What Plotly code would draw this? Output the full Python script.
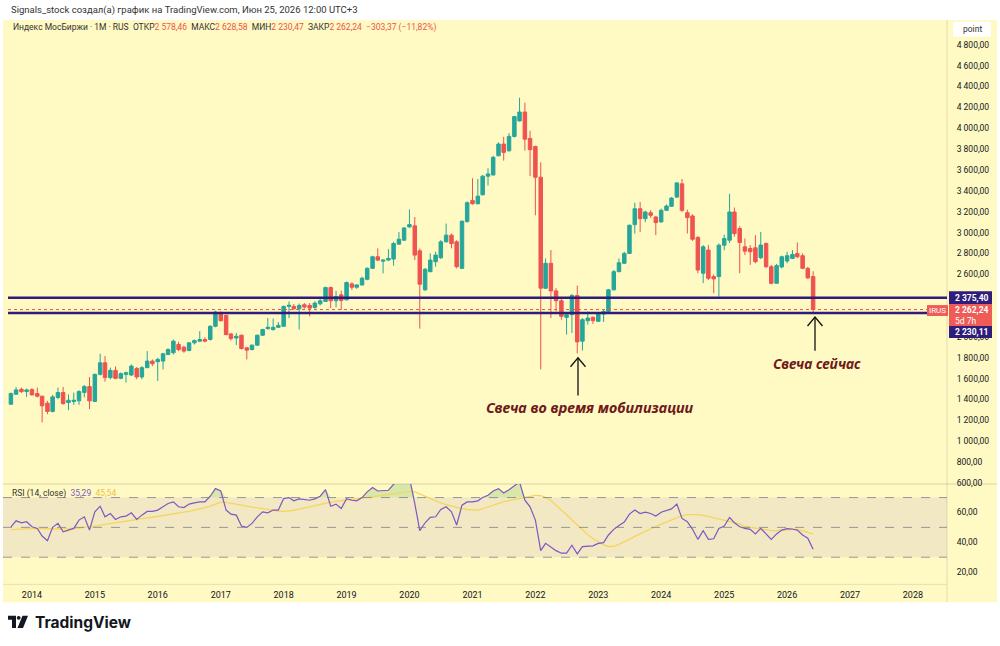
import plotly.graph_objects as go
import pandas as pd

# ---------------- data (monthly IMOEX candles, Sep 2013 .. Jun 2026) ----------------
months = pd.date_range("2013-09-01", periods=154, freq="MS")

opens = [1355,1451,1498,1476,1495,1457,1432,1365,1286,1419,1467,1371,1381,1387,1468,1524,
         1381,1641,1752,1610,1679,1603,1641,1635,1698,1616,1705,1768,
         1762,1768,1832,1848,1927,1902,1870,1943,1959,1975,1975,2102,
         2229,2206,2028,1990,2016,1895,1879,1921,2016,2079,2070,2092,
         2102,2292,2292,2270,2308,2301,2282,2317,2340,2473,2346,2403,
         2355,2508,2476,2498,2552,2657,2768,2726,2736,2746,2889,2927,
         3054,3064,2825,2451,2625,2720,2759,2911,2975,2911,2657,3105,
         3308,3276,3362,3540,3552,3736,3848,3784,3921,4070,4155,3902,
         3825,3530,2466,2705,2441,2346,2187,2213,2397,1959,2155,2187,
         2149,2219,2244,2451,2625,2705,2800,3076,3228,3133,3190,3149,
         3102,3213,3251,3340,3467,3190,3159,2952,2610,2832,2578,2578,
         2879,2927,3197,3038,2863,2847,2854,2759,2895,2673,2514,2670,
         2727,2752,2800,2778,2657,2578.46]
highs = [1467,1520,1514,1505,1508,1514,1435,1387,1445,1514,1520,1450,1466,1489,1540,1616,
         1648,1838,1816,1705,1717,1660,1667,1736,1711,1720,1864,1784,
         1800,1848,1890,1975,1953,1915,1950,1975,2054,1997,2111,2251,
         2245,2213,2038,2038,2022,1902,1927,2022,2079,2181,2175,2143,
         2300,2340,2315,2320,2325,2325,2340,2365,2482,2482,2441,2444,
         2530,2524,2505,2578,2667,2778,2848,2742,2841,2911,3006,3051,
         3222,3149,2847,2660,2800,2816,2927,3086,2990,2927,3117,3299,
         3520,3514,3552,3616,3736,3864,3918,3952,4117,4292,4244,3975,
         3832,3673,2752,2832,2467,2371,2229,2410,2492,2181,2244,2197,
         2228,2260,2460,2641,2752,2816,3076,3286,3292,3210,3215,3160,
         3230,3270,3340,3480,3514,3220,3175,2968,2880,2880,2600,2895,
         2980,3371,3240,3060,2943,2880,2975,3006,2905,2690,2700,2778,
         2816,2832,2905,2800,2672,2628.58]
lows = [1349,1444,1463,1425,1438,1419,1181,1260,1276,1403,1349,1298,1349,1349,1420,1308,
        1380,1630,1571,1594,1594,1594,1562,1625,1594,1594,1705,1720,
        1578,1689,1825,1832,1863,1848,1862,1927,1950,1949,1965,2092,
        2149,2016,1965,1921,1879,1784,1870,1915,2010,2070,2060,2086,
        2100,2180,2260,2070,2270,2197,2270,2302,2335,2276,2283,2260,
        2350,2451,2460,2492,2543,2650,2727,2609,2730,2682,2885,2920,
        3045,2736,2079,2440,2620,2673,2746,2905,2848,2657,2650,3095,
        3267,3270,3356,3451,3545,3730,3689,3775,3911,4064,3784,3540,
        3165,1689,2460,2181,2244,2165,2022,2038,1841,1870,2117,2124,
        2143,2143,2238,2445,2620,2700,2795,2990,3006,3100,3140,2975,
        3095,3205,3245,3330,3195,2990,2920,2610,2515,2545,2419,2387,
        2830,2900,2960,2610,2784,2690,2705,2745,2660,2505,2510,2657,
        2705,2746,2755,2650,2556,2230.47]
closes = [1457,1492,1476,1492,1444,1432,1340,1286,1425,1467,1362,1393,1393,1476,1524,1387,
          1641,1752,1610,1679,1603,1648,1657,1720,1616,1705,1768,1743,
          1784,1838,1879,1959,1879,1864,1943,1965,1975,1959,2102,2238,
          2155,2022,1984,2006,1889,1873,1921,2016,2070,2092,2092,2111,
          2292,2303,2270,2301,2286,2276,2324,2346,2473,2346,2387,2349,
          2521,2476,2498,2562,2657,2768,2736,2736,2752,2895,2936,3044,
          3076,2784,2505,2648,2736,2784,2911,2975,2895,2673,3108,3286,
          3276,3349,3540,3562,3721,3848,3768,3921,4111,4155,3895,3794,
          3530,2467,2705,2441,2346,2197,2213,2397,1952,2165,2181,2155,
          2219,2244,2451,2625,2711,2800,3070,3228,3133,3197,3165,3095,
          3213,3254,3330,3476,3213,3143,2936,2641,2863,2562,2556,2879,
          2943,3197,2990,2905,2822,2816,2721,2880,2673,2514,2683,2768,
          2778,2790,2768,2657,2565.61,2262.24]

rsi = [50.4,54.4,53.1,53.8,50.4,49.3,44.2,41.1,50.0,52.7,47.1,48.2,49.3,54.9,57.1,48.2,
       60.4,64.2,57.1,59.3,55.3,57.1,57.6,59.8,55.3,58.2,60.7,60.7,
       61.6,63.8,66.0,67.1,63.8,63.3,65.6,66.4,67.1,67.1,70.9,76.0,
       74.4,61.6,58.9,58.2,50.9,50.0,52.7,57.1,60.4,59.8,61.6,61.6,
       69.3,70.0,67.8,69.1,68.7,68.2,69.1,70.9,75.3,64.2,65.6,62.7,
       69.3,68.2,67.8,70.0,73.8,76.7,74.4,74.4,74.9,78.9,82.0,82.7,
       83.3,66.0,47.8,53.1,56.7,57.1,62.0,63.8,60.4,51.6,64.9,67.1,
       67.1,67.8,70.0,71.6,74.4,76.0,73.1,75.3,78.2,80.4,68.2,63.8,
       54.9,34.4,39.3,36.7,34.4,32.7,32.7,38.0,32.2,37.1,37.6,37.6,
       39.3,39.8,44.9,48.7,51.3,53.6,58.9,61.6,59.3,60.2,59.3,57.6,
       60.2,61.1,62.4,65.6,56.0,53.8,48.7,42.0,47.8,42.0,42.4,49.3,
       50.9,56.7,53.1,50.4,49.3,48.7,45.6,49.3,45.6,42.0,45.6,48.2,
       49.1,48.9,48.2,44.9,42.7,35.29]

rsi_ma = [48.5,48.7,48.9,49.1,49.2,49.3,49.2,49.0,48.9,48.9,49.0,49.1,49.3,49.6,50.0,50.3,
          50.8,51.4,52.0,52.6,53.2,53.8,54.4,55.0,55.5,56.0,56.4,56.8,57.3,57.8,58.3,
          59.0,59.6,60.2,60.8,61.5,62.3,63.2,64.3,65.6,67.0,
          66.8,66.3,65.6,64.9,64.2,63.6,63.0,62.4,61.8,61.3,61.0,
          60.8,61.0,61.5,62.2,63.0,63.8,64.6,65.4,66.2,67.0,67.4,67.8,68.2,68.6,69.0,
          69.6,70.2,70.6,71.0,71.5,72.0,72.5,73.0,73.6,74.2,
          73.8,72.4,70.8,69.0,67.6,66.4,65.3,64.3,63.4,62.6,62.0,61.6,
          61.6,62.5,63.8,65.0,66.2,67.2,68.0,68.7,69.6,70.5,71.2,71.5,71.2,
          70.0,68.0,65.0,62.0,58.5,55.0,51.5,48.0,45.0,42.5,40.3,38.3,37.2,37.3,38.6,40.2,
          42.0,44.0,45.8,47.3,49.0,50.6,52.2,53.6,55.0,56.4,57.8,58.5,58.8,58.6,58.0,57.2,
          56.4,55.5,54.7,54.0,53.3,52.4,50.6,50.0,49.4,48.6,48.0,47.8,47.8,47.9,48.1,48.4,
          48.6,47.8,46.8,45.54]

year_labels = [str(y) for y in range(2014, 2029)]
year_ticks = [f"{y}-01-01" for y in range(2014, 2029)]
# 2200 and 2400 are hidden behind the price boxes in the reference
price_ticks = [600, 800, 1000, 1200, 1400, 1600, 1800, 2000, 2600, 2800, 3000,
               3200, 3400, 3600, 3800, 4000, 4200, 4400, 4600, 4800]
price_text = [f"{v//1000} {v%1000:03d},00" if v >= 1000 else f"{v},00" for v in price_ticks]
rsi_ticks = [20, 40, 60]
rsi_text = ["20,00", "40,00", "60,00"]
level_hi = 2375.40
level_lo = 2230.11
last_close = 2262.24

# ---------------- geometry helpers (pixel -> paper) ----------------
W, H = 1000, 646
def PX(x): return x / W
def PY(y): return 1 - y / H

GREEN = "#26A69A"
RED = "#EF5350"
BG = "#FFF9C4"
INDIGO = "#2E1D7A"
DARK = "#131722"

fig = go.Figure()

fig.add_trace(go.Candlestick(
    x=months, open=opens, high=highs, low=lows, close=closes,
    xaxis="x", yaxis="y",
    increasing=dict(line=dict(color=GREEN, width=1), fillcolor=GREEN),
    decreasing=dict(line=dict(color=RED, width=1), fillcolor=RED),
    whiskerwidth=0, showlegend=False, hoverinfo="skip"))

# RSI band 30-70
x_band = ["2013-07-17", "2028-07-17"]
fig.add_trace(go.Scatter(x=x_band, y=[30, 30], mode="lines", line=dict(color="rgba(0,0,0,0)"),
                         xaxis="x2", yaxis="y2", showlegend=False, hoverinfo="skip"))
fig.add_trace(go.Scatter(x=x_band, y=[70, 70], mode="lines", line=dict(color="rgba(0,0,0,0)"),
                         fill="tonexty", fillcolor="rgba(126,87,194,0.10)",
                         xaxis="x2", yaxis="y2", showlegend=False, hoverinfo="skip"))
# overbought fill
fig.add_trace(go.Scatter(x=months, y=[70] * len(months), mode="lines", line=dict(color="rgba(0,0,0,0)"),
                         xaxis="x2", yaxis="y2", showlegend=False, hoverinfo="skip"))
fig.add_trace(go.Scatter(x=months, y=[max(v, 70) for v in rsi], mode="lines", line=dict(color="rgba(0,0,0,0)"),
                         fill="tonexty", fillcolor="rgba(76,175,80,0.22)",
                         xaxis="x2", yaxis="y2", showlegend=False, hoverinfo="skip"))
fig.add_trace(go.Scatter(x=months, y=rsi_ma, mode="lines", line=dict(color="#F6D55C", width=1.3),
                         xaxis="x2", yaxis="y2", showlegend=False, hoverinfo="skip"))
fig.add_trace(go.Scatter(x=months, y=rsi, mode="lines", line=dict(color="#7E57C2", width=1.2),
                         xaxis="x2", yaxis="y2", showlegend=False, hoverinfo="skip"))

shapes = []
# backgrounds
shapes.append(dict(type="rect", xref="paper", yref="paper", x0=PX(3), x1=PX(997), y0=PY(606), y1=PY(20),
                   fillcolor=BG, line=dict(width=0), layer="below"))
# separators
shapes.append(dict(type="line", xref="paper", yref="paper", x0=PX(3), x1=PX(997), y0=PY(487), y1=PY(487),
                   line=dict(color="rgba(120,110,80,0.25)", width=1), layer="below"))
shapes.append(dict(type="line", xref="paper", yref="paper", x0=PX(3), x1=PX(947), y0=PY(588), y1=PY(588),
                   line=dict(color="rgba(120,110,80,0.18)", width=1), layer="below"))
shapes.append(dict(type="line", xref="paper", yref="paper", x0=PX(947), x1=PX(947), y0=PY(606), y1=PY(20),
                   line=dict(color="rgba(120,110,80,0.2)", width=1), layer="below"))
# RSI dashed levels
for lvl in (70, 50, 30):
    shapes.append(dict(type="line", xref="paper", yref="y2", x0=PX(3), x1=PX(947), y0=lvl, y1=lvl,
                       line=dict(color="rgba(120,123,134,0.75)", width=1, dash="dash")))
# horizontal levels
shapes.append(dict(type="line", xref="paper", yref="y", x0=PX(8), x1=PX(947), y0=last_close, y1=last_close,
                   line=dict(color=RED, width=1, dash="dot")))
for lvl in (level_hi, level_lo):
    shapes.append(dict(type="line", xref="paper", yref="y", x0=PX(8), x1=PX(947), y0=lvl, y1=lvl,
                       line=dict(color=INDIGO, width=2.5)))
# arrows
def arrow(xc, ytop, ybot):
    return [dict(type="line", xref="paper", yref="paper", x0=PX(xc), x1=PX(xc), y0=PY(ybot), y1=PY(ytop),
                 line=dict(color="#111111", width=1.3)),
            dict(type="path", xref="paper", yref="paper",
                 path=f"M {PX(xc-7.5)} {PY(ytop+9)} L {PX(xc)} {PY(ytop)} L {PX(xc+7.5)} {PY(ytop+9)}",
                 line=dict(color="#111111", width=1.3))]
shapes += arrow(578, 360, 398)
shapes += arrow(815, 319, 353)
# axis label boxes
shapes.append(dict(type="rect", xref="paper", yref="paper", x0=PX(949), x1=PX(992), y0=PY(306), y1=PY(293),
                   fillcolor=INDIGO, line=dict(width=0)))
shapes.append(dict(type="rect", xref="paper", yref="paper", x0=PX(949), x1=PX(992), y0=PY(328), y1=PY(306),
                   fillcolor="#EF5B57", line=dict(width=0)))
shapes.append(dict(type="rect", xref="paper", yref="paper", x0=PX(949), x1=PX(992), y0=PY(340), y1=PY(328),
                   fillcolor=INDIGO, line=dict(width=0)))
shapes.append(dict(type="rect", xref="paper", yref="paper", x0=PX(927), x1=PX(948), y0=PY(318), y1=PY(307),
                   fillcolor="#EF5B57", line=dict(width=0)))
shapes.append(dict(type="rect", xref="paper", yref="paper", x0=PX(953), x1=PX(991), y0=PY(37), y1=PY(22),
                   fillcolor="white", line=dict(width=0)))
# TradingView logo
shapes.append(dict(type="path", xref="paper", yref="paper",
                   path=f"M {PX(8)} {PY(619.5)} L {PX(16)} {PY(619.5)} L {PX(16)} {PY(632)} L {PX(12)} {PY(632)} "
                        f"L {PX(12)} {PY(623.5)} L {PX(8)} {PY(623.5)} Z",
                   fillcolor=DARK, line=dict(width=0)))
shapes.append(dict(type="circle", xref="paper", yref="paper", x0=PX(16.8), x1=PX(20.6), y0=PY(623.6), y1=PY(619.8),
                   fillcolor=DARK, line=dict(width=0)))
shapes.append(dict(type="path", xref="paper", yref="paper",
                   path=f"M {PX(22.5)} {PY(619.5)} L {PX(28)} {PY(619.5)} L {PX(23)} {PY(632)} L {PX(17.5)} {PY(632)} Z",
                   fillcolor=DARK, line=dict(width=0)))

FONT = "Roboto"
ann = []
def txt(x, y, s, size=9, color=DARK, xanchor="left", yanchor="middle", family=FONT, **kw):
    ann.append(dict(x=PX(x), y=PY(y), xref="paper", yref="paper", text=s, showarrow=False,
                    xanchor=xanchor, yanchor=yanchor, font=dict(size=size, color=color, family=family), **kw))

txt(9, 10, "Signals_stock создал(а) график на TradingView.com, Июн 25, 2026 12:00 UTC+3", size=9.5, color="#333333")
r = lambda s: f"<span style='color:{RED}'>{s}</span>"
txt(11, 28, "Индекс МосБиржи · 1M · RUS  ОТКР" + r("2 578,46") + "  МАКС" + r("2 628,58") +
    "  МИН" + r("2 230,47") + "  ЗАКР" + r("2 262,24") + "  " + r("−303,37 (−11,82%)"), size=8.5, color="#333333")
txt(10, 497, "RSI (14, close)  <span style='color:#7E57C2'>35,29</span>  <span style='color:#E8C547'>45,54</span>",
    size=8.5, color="#333333")
txt(972, 29.5, "point", size=8.5, color="#333333", xanchor="center")
txt(953, 299.5, "<b>2 375,40</b>", size=8.5, color="white")
txt(953, 317, "<b>2 262,24</b><br>5d 7h", size=8.5, color="white", align="left")
txt(953, 334, "<b>2 230,11</b>", size=8.5, color="white")
txt(937.5, 312.5, "IRUS", size=8, color="white", xanchor="center")
txt(590, 410, "<b><i>Свеча во время мобилизации</i></b>", size=14.5, color="#6E1A1A", xanchor="center", family="Noto Sans")
txt(817, 366, "<b><i>Свеча сейчас</i></b>", size=14, color="#6E1A1A", xanchor="center", family="Noto Sans")
txt(33, 626, "<b>TradingView</b>", size=15.5, color=DARK, family="Inter")

fig.update_layout(
    width=W, height=H, margin=dict(l=0, r=0, t=0, b=0),
    paper_bgcolor="white", plot_bgcolor="rgba(0,0,0,0)",
    showlegend=False, boxgap=0.15, boxgroupgap=0.15,
    xaxis=dict(domain=[PX(3), PX(947)], range=x_band, anchor="y", showticklabels=False,
               showgrid=False, zeroline=False, rangeslider=dict(visible=False), showline=False),
    xaxis2=dict(domain=[PX(3), PX(947)], range=x_band, anchor="y2", matches="x",
                tickvals=year_ticks, ticktext=year_labels, ticks="outside", ticklen=2,
                tickcolor="rgba(0,0,0,0)", tickfont=dict(size=9, color=DARK, family=FONT),
                showgrid=False, zeroline=False, showline=False),
    yaxis=dict(domain=[PY(487), PY(20)], range=[590.5, 5038], anchor="x", side="right",
               tickvals=price_ticks, ticktext=price_text, ticks="outside", ticklen=7,
               tickcolor="rgba(0,0,0,0)", tickfont=dict(size=8.5, color=DARK, family=FONT),
               showgrid=False, zeroline=False, showline=False),
    yaxis2=dict(domain=[PY(588), PY(487)], range=[11.8, 79.1], anchor="x2", side="right",
                tickvals=rsi_ticks, ticktext=rsi_text, ticks="outside", ticklen=7,
                tickcolor="rgba(0,0,0,0)", tickfont=dict(size=8.5, color=DARK, family=FONT),
                showgrid=False, zeroline=False, showline=False),
    shapes=shapes, annotations=ann,
)

fig.write_html("out.html")
